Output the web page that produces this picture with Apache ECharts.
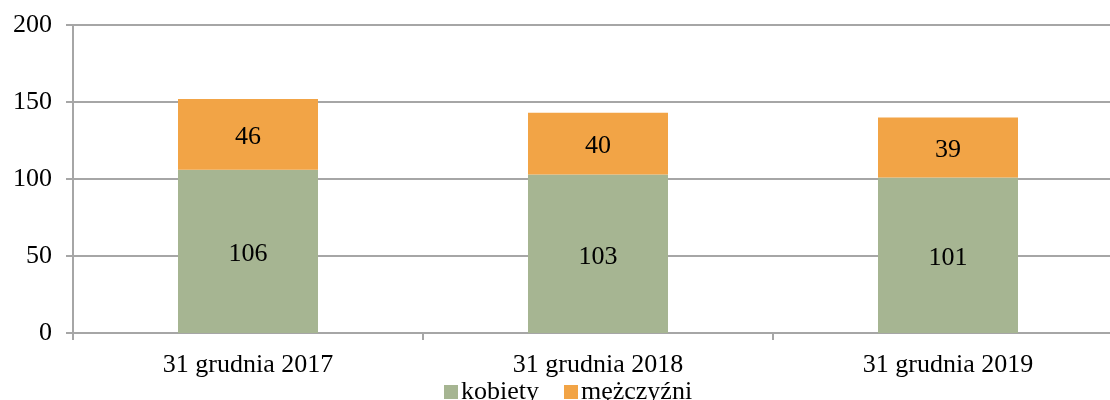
<!DOCTYPE html>
<html>
<head>
<meta charset="utf-8">
<script src="https://cdn.jsdelivr.net/npm/echarts@6/dist/echarts.min.js"></script>
<style>
  html, body { margin: 0; padding: 0; background: #fff; overflow: hidden; }
  #chart { width: 1123px; height: 400px; }
</style>
</head>
<body>
<div id="chart"></div>
<script>
// Stan na koniec roku: liczba kobiet i mężczyzn
const categories = ['31 grudnia 2017', '31 grudnia 2018', '31 grudnia 2019'];
const kobiety = [106, 103, 101];
const mezczyzni = [46, 40, 39];
const seriesNames = ['kobiety', 'mężczyźni'];

const FONT = '"Liberation Serif", "Times New Roman", serif';
const GRID_COLOR = '#a6a6a6';
const FS = 26;

const chart = echarts.init(document.getElementById('chart'), null, { renderer: 'canvas' });

const labelStyle = {
  show: true,
  position: 'inside',
  offset: [0, 3],
  color: '#000',
  fontFamily: FONT,
  fontSize: FS
};

chart.setOption({
  animation: false,
  backgroundColor: '#fff',
  textStyle: { fontFamily: FONT },
  grid: { left: 73, top: 25, right: 0, height: 308, containLabel: false },
  legend: {
    top: 374,
    left: 439,
    itemGap: 25,
    itemWidth: 14,
    itemHeight: 14,
    icon: 'rect',
    textStyle: { fontFamily: FONT, fontSize: FS, color: '#000', padding: [0, 0, 0, -2] },
    data: seriesNames
  },
  xAxis: {
    type: 'category',
    data: categories,
    axisLine: { lineStyle: { color: GRID_COLOR, width: 2 } },
    axisTick: { show: true, length: 7, alignWithLabel: false, lineStyle: { color: GRID_COLOR, width: 2 } },
    axisLabel: { color: '#000', fontFamily: FONT, fontSize: FS, margin: 19 }
  },
  yAxis: {
    type: 'value',
    min: 0,
    max: 200,
    interval: 50,
    axisLine: { show: true, lineStyle: { color: GRID_COLOR, width: 2 } },
    axisTick: { show: true, length: 7, lineStyle: { color: GRID_COLOR, width: 2 } },
    axisLabel: { color: '#000', fontFamily: FONT, fontSize: FS, margin: 21 },
    splitLine: { lineStyle: { color: GRID_COLOR, width: 2 } }
  },
  series: [
    {
      name: seriesNames[0],
      type: 'bar',
      stack: 'total',
      data: kobiety,
      barWidth: '40%',
      itemStyle: { color: '#a6b592' },
      label: labelStyle
    },
    {
      name: seriesNames[1],
      type: 'bar',
      stack: 'total',
      data: mezczyzni,
      barWidth: '40%',
      itemStyle: { color: '#f2a446' },
      label: labelStyle
    }
  ]
});
</script>
</body>
</html>
